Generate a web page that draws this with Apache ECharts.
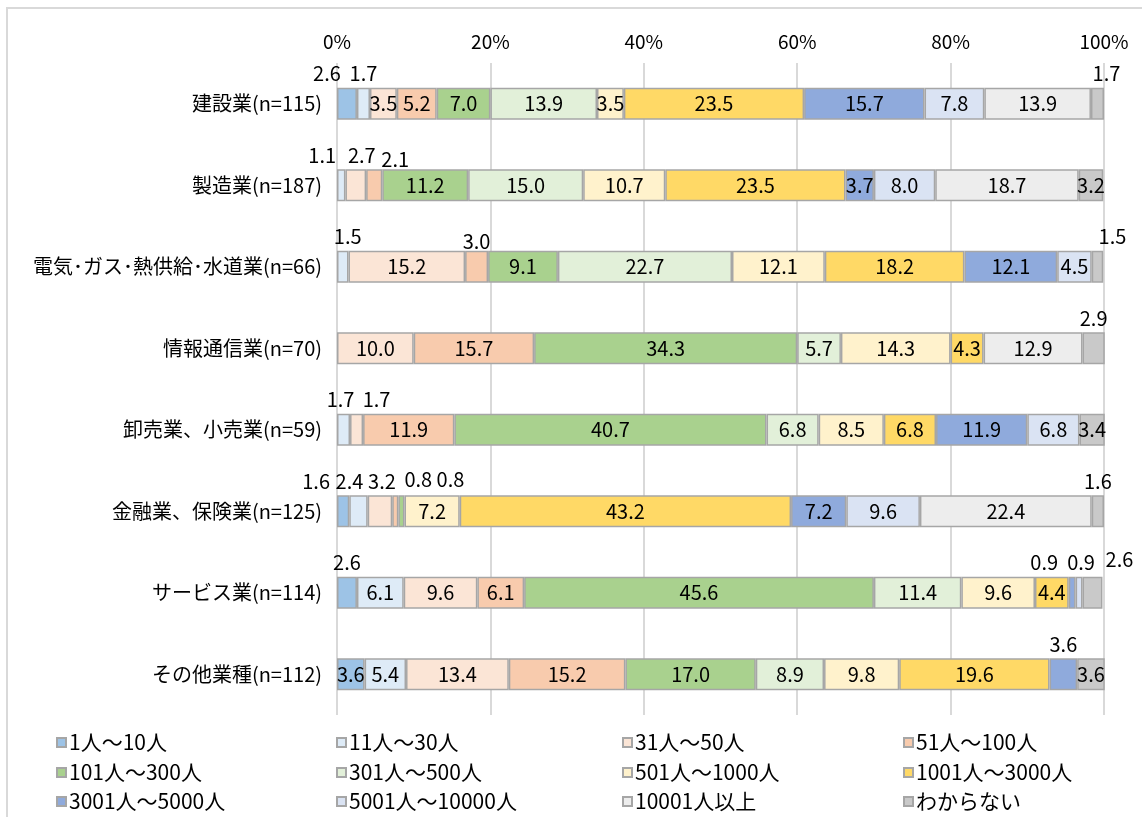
<!DOCTYPE html>
<html><head><meta charset="utf-8">
<script src="https://cdn.jsdelivr.net/npm/echarts@6/dist/echarts.min.js"></script>
<style>html,body{margin:0;padding:0;background:#fff}#c{width:1142px;height:817px}</style>
</head><body><div id="c"></div><script>
const categories = ['建設業(n=115)', '製造業(n=187)', '電気･ガス･熱供給･水道業(n=66)', '情報通信業(n=70)', '卸売業、小売業(n=59)', '金融業、保険業(n=125)', 'サービス業(n=114)', 'その他業種(n=112)'];
const seriesNames = ['1人～10人', '11人～30人', '31人～50人', '51人～100人', '101人～300人', '301人～500人', '501人～1000人', '1001人～3000人', '3001人～5000人', '5001人～10000人', '10001人以上', 'わからない'];
const tickLabels = ['0%', '20%', '40%', '60%', '80%', '100%'];
const v1to10      = [2.6, 0, 0, 0, 0, 1.6, 2.6, 3.6];
const v11to30     = [1.7, 1.1, 1.5, 0, 1.7, 2.4, 6.1, 5.4];
const v31to50     = [3.5, 2.7, 15.2, 10.0, 1.7, 3.2, 9.6, 13.4];
const v51to100    = [5.2, 2.1, 3.0, 15.7, 11.9, 0.8, 6.1, 15.2];
const v101to300   = [7.0, 11.2, 9.1, 34.3, 40.7, 0.8, 45.6, 17.0];
const v301to500   = [13.9, 15.0, 22.7, 5.7, 6.8, 0, 11.4, 8.9];
const v501to1000  = [3.5, 10.7, 12.1, 14.3, 8.5, 7.2, 9.6, 9.8];
const v1001to3000 = [23.5, 23.5, 18.2, 4.3, 6.8, 43.2, 4.4, 19.6];
const v3001to5000 = [15.7, 3.7, 12.1, 0, 11.9, 7.2, 0.9, 3.6];
const v5001to10000= [7.8, 8.0, 4.5, 0, 6.8, 9.6, 0.9, 0];
const v10001plus  = [13.9, 18.7, 0, 12.9, 0, 22.4, 0, 0];
const vUnknown    = [1.7, 3.2, 1.5, 2.9, 3.4, 1.6, 2.6, 3.6];
const allValues = [v1to10, v11to30, v31to50, v51to100, v101to300, v301to500, v501to1000, v1001to3000, v3001to5000, v5001to10000, v10001plus, vUnknown];

// styling
const colors = ['#9dc3e6', '#deebf7', '#fbe5d6', '#f8cbad', '#a9d18e', '#e2f0d9', '#fff2cc', '#ffd966', '#8faadc', '#dae3f3', '#ededed', '#c9c9c9'];
// labels moved above the bar: category index -> {series index: [dx, dy]}
const aboveLabels = {
  0: {0: [-20, 0], 1: [0, 0], 11: [9, 0]},
  1: {1: [-19, 0], 2: [6, 0], 3: [21, 4]},
  2: {1: [5, 0], 3: [0, 5], 11: [15, 0]},
  3: {11: [0, 0]},
  4: {1: [-3, 0], 2: [20, 0]},
  5: {0: [-27, 0], 1: [-9, 0], 2: [2, 0], 3: [23, -2], 4: [49, -2], 11: [0, 0]},
  6: {0: [0, 0], 8: [-28, 0], 9: [2, 0], 11: [27, -3]},
  7: {8: [0, 0]}
};
const FONT = "'Liberation Sans Narrow', 'Noto Sans CJK JP', sans-serif";
const numSize = 20;

const series = allValues.map((vals, si) => ({
  name: seriesNames[si],
  type: 'bar',
  stack: 'total',
  barWidth: 32,
  itemStyle: {color: colors[si], borderColor: '#a6a6a6', borderWidth: 1.5},
  label: {
    show: true, position: 'inside', color: '#000', fontFamily: FONT, fontSize: numSize,
    formatter: p => (p.value == null ? '' : Number(p.value).toFixed(1))
  },
  emphasis: {disabled: true},
  data: vals.map((v, ci) => {
    if (!v) return null;
    const a = aboveLabels[ci] && aboveLabels[ci][si];
    if (a) return {value: v, label: {position: 'top', distance: 4, offset: a}};
    return v;
  })
}));

const legendCols = [56, 336, 622, 903];
const legendRows = [744, 774, 803];
const legends = seriesNames.map((n, i) => ({
  data: [n],
  left: legendCols[i % 4],
  top: legendRows[Math.floor(i / 4)] - 12,
  icon: 'rect', itemWidth: 9, itemHeight: 9, itemGap: 0, padding: 0,
  selectedMode: false,
  textStyle: {fontFamily: FONT, fontSize: 21, color: '#000', padding: [0, 0, 0, -2]}
}));

const chart = echarts.init(document.getElementById('c'), null, {renderer: 'canvas'});
chart.setOption({
  animation: false,
  backgroundColor: '#fff',
  graphic: [{type: 'rect', shape: {x: 7, y: 8, width: 1300, height: 1000}, style: {fill: 'none', stroke: '#d9d9d9', lineWidth: 2}, silent: true}],
  grid: {left: 337, right: 38, top: 63, height: 652},
  legend: legends,
  xAxis: {
    type: 'value', position: 'top', min: 0, max: 100, interval: 20,
    axisLine: {show: false}, axisTick: {show: false},
    splitLine: {show: true, lineStyle: {color: '#d9d9d9', width: 2}},
    axisLabel: {margin: 12, fontFamily: FONT, fontSize: 19, color: '#000',
      formatter: (v) => tickLabels[Math.round(v / 20)]}
  },
  yAxis: {
    type: 'category', inverse: true, data: categories,
    axisLine: {show: false}, axisTick: {show: false},
    axisLabel: {margin: 15, fontFamily: FONT, fontSize: 20, color: '#000'}
  },
  series: series
});
</script></body></html>
